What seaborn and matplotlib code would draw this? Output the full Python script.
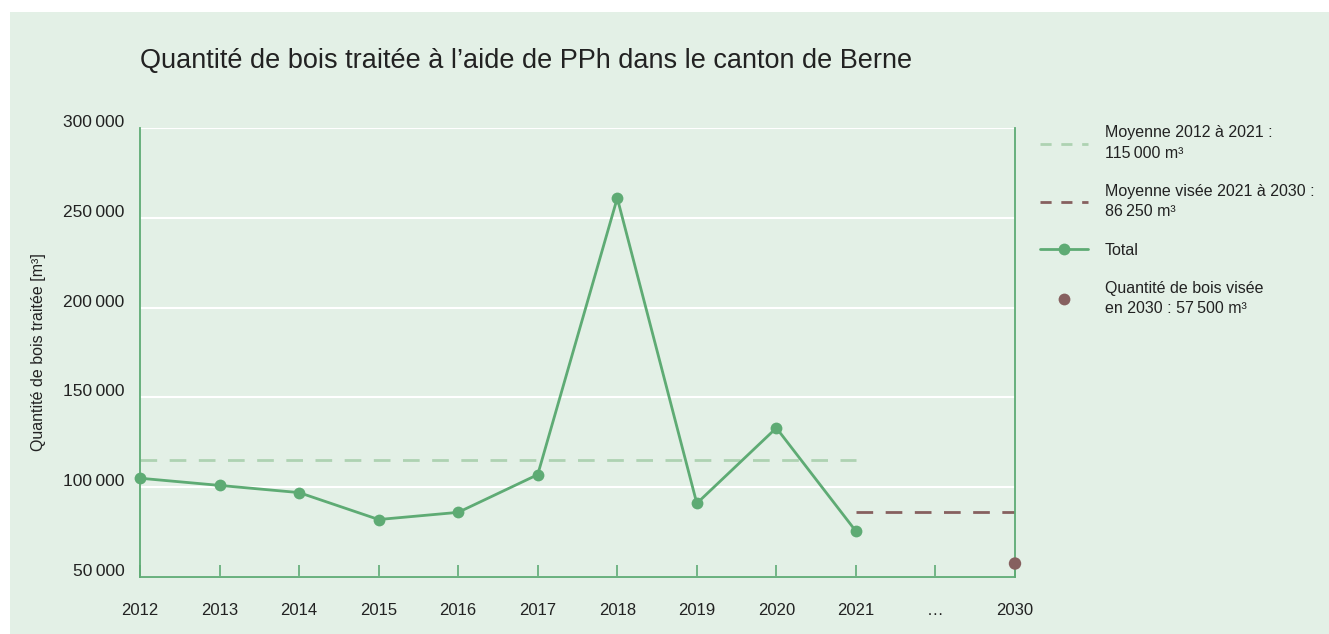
import matplotlib
matplotlib.use("Agg")
import matplotlib.pyplot as plt
import matplotlib.transforms as mtransforms
from matplotlib.lines import Line2D
from matplotlib.patches import Rectangle
import pandas as pd
import seaborn as sns

# data
x_labels = ["2012", "2013", "2014", "2015", "2016", "2017", "2018", "2019",
            "2020", "2021", "…", "2030"]
years = ["2012", "2013", "2014", "2015", "2016", "2017", "2018", "2019", "2020", "2021"]
total = [105000, 101000, 97000, 82000, 86000, 107000, 261000, 91000, 133000, 75500]
mean_past = 115000
mean_target = 86250
target_2030 = 57500
y_ticks = [50000, 100000, 150000, 200000, 250000, 300000]

bg = "#e3f0e6"
green = "#5eab74"
light_green = "#aed2b2"
brown = "#86605f"
text_col = "#222222"

sns.set_theme(style="white")
plt.rcParams["font.family"] = ["Liberation Sans", "DejaVu Sans"]

fig = plt.figure(figsize=(13.29, 6.34), dpi=100)
fig.patch.set_facecolor("white")
panel = Rectangle((10 / 1329, 0), 1, 1 - 12 / 634, transform=fig.transFigure,
                  facecolor=bg, edgecolor="none", zorder=-10)
fig.add_artist(panel)

ax = fig.add_axes([140 / 1329, 1 - 577 / 634, (1015 - 140) / 1329, (577 - 128) / 634])
ax.set_facecolor(bg)
ax.set_zorder(1)

pos = {lab: i for i, lab in enumerate(x_labels)}
df = pd.DataFrame({"x": [pos[y] for y in years], "total": total})

# white gridlines
for t in y_ticks:
    ax.axhline(t, color="white", lw=1.5, zorder=1)

# averages
sns.lineplot(x=[pos["2012"], pos["2021"]], y=[mean_past, mean_past], ax=ax,
             color=light_green, lw=2, zorder=2)
ax.lines[-1].set_dashes([6, 4.5])
sns.lineplot(x=[pos["2021"], pos["2030"]], y=[mean_target, mean_target], ax=ax,
             color=brown, lw=2, zorder=2)
ax.lines[-1].set_dashes([6, 4.5])

# total series
sns.lineplot(data=df, x="x", y="total", ax=ax, color=green, lw=2, marker="o",
             markersize=8.5, markeredgewidth=0, zorder=3)
ax.lines[-1].set_clip_on(False)

# target point 2030
sns.scatterplot(x=[pos["2030"]], y=[target_2030], ax=ax, color=brown, s=80,
                edgecolor="none", zorder=4, clip_on=False)

ax.set_xlim(0, len(x_labels) - 1)
ax.set_ylim(50000, 300000)

ax.set_xticks(range(len(x_labels)))
ax.set_xticklabels(x_labels, fontsize=12, color=text_col)
ax.tick_params(axis="x", direction="in", length=9, width=1.2, color=green, pad=19,
               bottom=True)

ax.set_yticks(y_ticks)
ax.set_yticklabels([f"{t:,}".replace(",", "\u2009") for t in y_ticks],
                   fontsize=12.5, color=text_col)
ax.tick_params(axis="y", length=0, pad=11, left=True)
off = mtransforms.ScaledTranslation(0, 5 / 72, fig.dpi_scale_trans)
for lab in ax.get_yticklabels():
    lab.set_transform(lab.get_transform() + off)

for side in ["left", "right", "bottom"]:
    ax.spines[side].set_visible(True)
    ax.spines[side].set_color(green)
    ax.spines[side].set_linewidth(1.3)
ax.spines["top"].set_visible(False)

ax.set_xlabel("")
ax.set_ylabel("Quantité de bois traitée [m³]", fontsize=11.5, color=text_col)
ax.yaxis.set_label_coords((46 - 140) / (1015 - 140), 0.5)

fig.text(140 / 1329, 1 - 61 / 634, "Quantité de bois traitée à l’aide de PPh dans le canton de Berne",
         fontsize=19.5, color=text_col, va="center", ha="left")

handles = [
    Line2D([], [], color=light_green, lw=2, dashes=[4, 3.5]),
    Line2D([], [], color=brown, lw=2, dashes=[4, 3.5]),
    Line2D([], [], color=green, lw=2, marker="o", markersize=8.5, markeredgewidth=0),
    Line2D([], [], color=brown, lw=0, marker="o", markersize=8.5, markeredgewidth=0),
]
labels = [
    "Moyenne 2012 à 2021 :\n115\u2009000 m³",
    "Moyenne visée 2021 à 2030 :\n86\u2009250 m³",
    "Total",
    "Quantité de bois visée\nen 2030 : 57\u2009500 m³",
]
leg = ax.legend(handles, labels, loc="upper left", bbox_to_anchor=(1.021, 1.02),
                frameon=False, fontsize=11.5, handlelength=3.0, handletextpad=1.06,
                labelspacing=1.45, borderaxespad=0)
for t in leg.get_texts():
    t.set_color(text_col)
    t.set_linespacing(1.45)

fig.savefig("out.png", dpi=100, facecolor=fig.get_facecolor())
